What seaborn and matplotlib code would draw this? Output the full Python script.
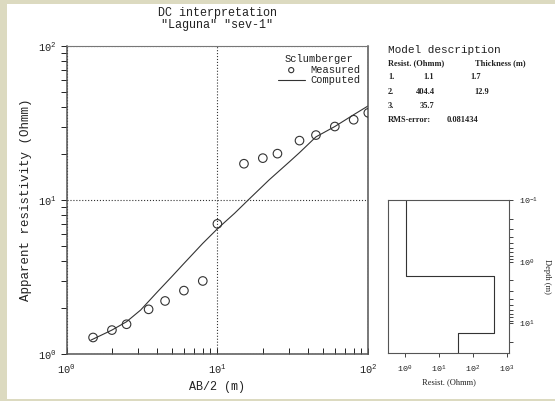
import matplotlib
matplotlib.use("Agg")
import numpy as np
import pandas as pd
import matplotlib.pyplot as plt
import seaborn as sns
from matplotlib.patches import Rectangle
from matplotlib.ticker import LogLocator, NullLocator, FixedLocator

# ---------------- data ----------------
ab2_measured = [1.5, 2.0, 2.5, 3.5, 4.5, 6.0, 8.0, 10, 15, 20, 25, 35, 45, 60, 80, 100]
rho_measured = [1.28, 1.43, 1.56, 1.95, 2.21, 2.58, 2.98, 7.0, 17.2, 18.7, 20.0, 24.3, 26.4, 30.0, 33.2, 36.8]

ab2_computed = [1.45, 2.0, 2.5, 3.1, 4.0, 5.0, 6.0, 8.0, 10, 13, 16, 22, 30, 35, 45, 60, 80, 100]
rho_computed = [1.23, 1.43, 1.62, 1.93, 2.53, 3.19, 3.87, 5.23, 6.5, 8.2, 10.0, 13.5, 17.7, 20.3, 25.7, 30.0, 35.8, 40.9]

layer_resist = [1.1, 404.4, 35.7]
layer_thick = [1.7, 12.9]
rms_error = 0.081434

title_lines = ["DC interpretation", '"Laguna" "sev-1"']
legend_title = "Sclumberger"

W, H = 555, 401

sns.set_style("ticks")
plt.rcParams["font.family"] = ["Liberation Mono", "DejaVu Sans"]
plt.rcParams["mathtext.fontset"] = "stix"

TXT = "#222222"
LINE = "#333333"
SPINE = "#555555"

fig = plt.figure(figsize=(W / 100, H / 100), dpi=100)
fig.patch.set_facecolor("#dcdac0")
fig.add_artist(Rectangle((7 / W, 2 / H), 1 - 7 / W, (H - 6) / H,
                         transform=fig.transFigure, fc="white", ec="none", zorder=-10))


def fx(px):
    return px / W


def fy(py):
    return 1 - py / H


# ---------------- main axes ----------------
ax = fig.add_axes([fx(66.5), fy(354), (368.3 - 66.5) / W, (354 - 46) / H])
ax.set(xscale="log", yscale="log")

meas = pd.DataFrame({"ab2": ab2_measured, "rho": rho_measured})
comp = pd.DataFrame({"ab2": ab2_computed, "rho": rho_computed})

sns.scatterplot(data=meas, x="ab2", y="rho", ax=ax, marker="o", s=38,
                facecolor="none", edgecolor=LINE, linewidth=0.8,
                label="Measured", zorder=3, clip_on=True)
sns.lineplot(data=comp, x="ab2", y="rho", ax=ax, color=LINE, lw=0.8,
             sort=False, estimator=None, label="Computed", zorder=2)

ax.set_xlim(1, 100)
ax.set_ylim(1, 100)
ax.grid(True, which="major", ls=":", lw=0.8, color="#333333")
ax.grid(False, which="minor")

ax.xaxis.set_major_locator(LogLocator(base=10))
ax.xaxis.set_minor_locator(LogLocator(base=10, subs=np.arange(2, 10)))
ax.yaxis.set_major_locator(LogLocator(base=10))
ax.yaxis.set_minor_locator(LogLocator(base=10, subs=np.arange(2, 10)))
ax.tick_params(axis="x", which="both", direction="in", length=4, width=0.7,
               top=False, pad=6, labelsize=7.5, colors=TXT)
ax.tick_params(axis="y", which="both", direction="out", length=4, width=0.7,
               right=False, pad=3, labelsize=7.5, colors=TXT)
ax.tick_params(axis="both", which="minor", labelbottom=False, labelleft=False)

for s in ax.spines.values():
    s.set_color(SPINE)
    s.set_linewidth(1.1)
    s.set_visible(True)
ax.spines["top"].set_linewidth(0.8)
ax.spines["top"].set_color("#777777")

ax.set_xlabel("AB/2 (m)", fontsize=8.5, color=TXT, ha="center", va="center")
ax.xaxis.set_label_coords(0.5, (354 - 387) / 308)
ax.set_ylabel("Apparent resistivity (Ohmm)", fontsize=9, color=TXT, ha="center", va="center")
ax.yaxis.set_label_coords((26 - 66.5) / 301.8, 0.5)

ax.set_title("\n".join(title_lines), fontsize=8.5, color=TXT, linespacing=1.0, pad=13)

handles, labels = ax.get_legend_handles_labels()
leg = ax.legend(handles, labels, title=legend_title, loc="upper right", frameon=False,
                fontsize=7.5, title_fontsize=7.5, handlelength=2.6, handletextpad=0.5,
                borderaxespad=0.4, labelspacing=0.05, markerscale=0.6)
for t in leg.get_texts():
    t.set_color(TXT)
leg.get_title().set_color(TXT)

# ---------------- model description text ----------------
small = dict(family=["Liberation Serif", "DejaVu Serif"], fontsize=6, color=TXT,
             va="center", ha="left", weight="bold")
fig.text(fx(388), fy(50), "Model description", fontsize=8, color=TXT, va="center", ha="left")
fig.text(fx(388), fy(63.3), "Resist. (Ohmm)", **small)
fig.text(fx(475), fy(63.3), "Thickness (m)", **small)
row_y = [76.7, 91.7, 106]
res_x = [423, 415.7, 420]
thk_x = [470.5, 474]
for i, r in enumerate(layer_resist):
    fig.text(fx(388), fy(row_y[i]), f"{i + 1}.", **small)
    fig.text(fx(res_x[i]), fy(row_y[i]), f"{r:g}", **small)
    if i < len(layer_thick):
        fig.text(fx(thk_x[i]), fy(row_y[i]), f"{layer_thick[i]:g}", **small)
fig.text(fx(388), fy(120), "RMS-error:", **small)
fig.text(fx(446.7), fy(120), f"{rms_error:g}", **small)

# ---------------- model inset ----------------
ax2 = fig.add_axes([fx(388.3), fy(352.7), (509.3 - 388.3) / W, (352.7 - 200) / H])
ax2.set(xscale="log", yscale="log")
top_depth, bottom_depth = 0.1, 10 ** 1.476
bounds = [top_depth] + list(np.cumsum(layer_thick)) + [bottom_depth]
step_x, step_y = [], []
for i, r in enumerate(layer_resist):
    step_x += [r, r]
    step_y += [bounds[i], bounds[i + 1]]
model = pd.DataFrame({"resist": step_x, "depth": step_y})
sns.lineplot(data=model, x="resist", y="depth", ax=ax2, color=LINE, lw=0.8,
             sort=False, estimator=None)
ax2.set_xlim(10 ** -0.49, 10 ** 3.07)
ax2.set_ylim(bottom_depth, top_depth)
ax2.xaxis.set_major_locator(FixedLocator([1, 10, 100, 1000]))
ax2.xaxis.set_minor_locator(NullLocator())
ax2.yaxis.set_major_locator(LogLocator(base=10))
ax2.yaxis.set_minor_locator(LogLocator(base=10, subs=np.arange(2, 10)))
ax2.yaxis.tick_right()
ax2.tick_params(axis="x", which="both", direction="out", length=3, width=0.6,
                pad=5, labelsize=6, colors=TXT)
ax2.tick_params(axis="y", which="both", direction="out", length=3, width=0.6,
                left=False, right=True, labelleft=False, labelright=True,
                pad=4, labelsize=6, colors=TXT)
ax2.tick_params(axis="y", which="minor", labelright=False)
for s in ax2.spines.values():
    s.set_color(SPINE)
    s.set_linewidth(0.8)
    s.set_visible(True)
ax2.set_xlabel("")
ax2.set_ylabel("")
ax2.text(0.5, (352.7 - 381.7) / 152.7, "Resist. (Ohmm)", transform=ax2.transAxes,
         ha="center", va="center", fontsize=6, color=TXT,
         family=["Liberation Serif", "DejaVu Serif"])
ax2.text((546.7 - 388.3) / 121, 0.5, "Depth (m)", transform=ax2.transAxes,
         ha="center", va="center", rotation=270, fontsize=6, color=TXT,
         family=["Liberation Serif", "DejaVu Serif"])

fig.savefig("out.png", dpi=100, facecolor=fig.get_facecolor())
